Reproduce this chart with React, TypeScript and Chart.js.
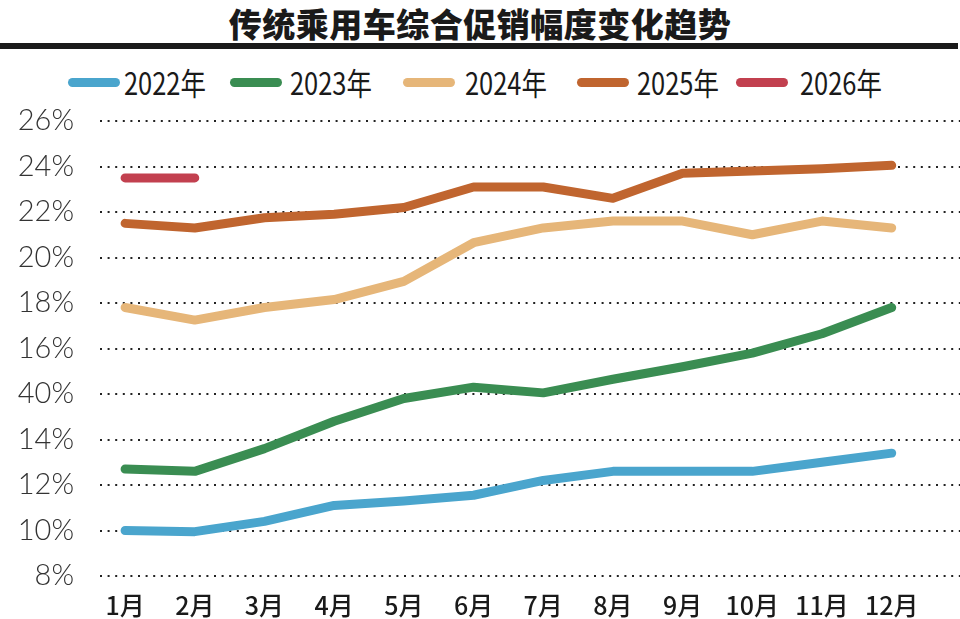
import React, { useEffect, useRef } from "react";
import { Chart, registerables } from "chart.js";

Chart.register(...registerables);

const title = "传统乘用车综合促销幅度变化趋势";
const months = ["1月", "2月", "3月", "4月", "5月", "6月", "7月", "8月", "9月", "10月", "11月", "12月"];
// tick labels bottom-to-top, as printed in the reference (its axis reads "40%" where 15% would sit)
const yTickLabels = ["8%", "10%", "12%", "14%", "40%", "16%", "18%", "20%", "22%", "24%", "26%"];
const yTickValues = [8, 10, 12, 14, 16, 18, 20, 22, 24, 26, 28];

const seriesNames = ["2022年", "2023年", "2024年", "2025年", "2026年"];
const seriesColors = ["#4aa5cd", "#3a8d52", "#e6b679", "#c0652f", "#c2404f"];

// values in the axis' plotted units
const v2022 = [10.0, 9.95, 10.4, 11.1, 11.3, 11.55, 12.2, 12.6, 12.6, 12.6, 13.0, 13.4];
const v2023 = [12.7, 12.6, 13.6, 14.8, 15.8, 16.3, 16.05, 16.65, 17.2, 17.8, 18.65, 19.8];
const v2024 = [19.8, 19.25, 19.8, 20.15, 20.95, 22.65, 23.3, 23.6, 23.6, 23.0, 23.6, 23.3];
const v2025 = [23.5, 23.3, 23.75, 23.9, 24.2, 25.1, 25.1, 24.6, 25.7, 25.8, 25.9, 26.05];
const v2026 = [25.5, 25.5];

const allSeries = [v2022, v2023, v2024, v2025, v2026];

const legendSwatchX = [68, 230, 403, 577, 736];
const legendTextX = [124, 290, 465, 637, 800];

export default function App() {
  const ref = useRef<HTMLCanvasElement | null>(null);

  useEffect(() => {
    document.body.style.margin = "0";
    const ctx = ref.current!.getContext("2d")!;
    const chart = new Chart(ctx, {
      type: "line",
      data: {
        datasets: allSeries.map((vals, i) => ({
          label: seriesNames[i],
          data: vals.map((v, j) => ({ x: j + 1, y: v })),
          borderColor: seriesColors[i],
          backgroundColor: seriesColors[i],
          borderWidth: 9,
          borderCapStyle: "round" as const,
          borderJoinStyle: "round" as const,
          pointRadius: 0,
          tension: 0,
          fill: false,
        })),
      },
      options: {
        animation: false,
        responsive: false,
        maintainAspectRatio: false,
        layout: { padding: { top: 21, right: 0, bottom: 0, left: 0 } },
        plugins: {
          legend: { display: false },
          tooltip: { enabled: false },
          title: { display: false },
        },
        scales: {
          x: {
            type: "linear",
            min: 0.64,
            max: 12.98,
            grid: { display: false, drawTicks: false },
            border: { display: false },
            ticks: {
              stepSize: 1,
              includeBounds: false,
              autoSkip: false,
              maxRotation: 0,
              padding: 14,
              color: "#1a1a1a",
              font: { family: "'Noto Sans CJK SC', 'Noto Sans', sans-serif", size: 25, weight: "500" },
              callback: (val: any) => {
                const n = Number(val);
                return Number.isInteger(n) && n >= 1 && n <= 12 ? months[n - 1] : "";
              },
            },
          },
          y: {
            type: "linear",
            min: 8,
            max: 28,
            afterFit: (s: any) => {
              s.width = 100;
              s.paddingTop = 0;
              s.paddingBottom = 0;
            },
            afterBuildTicks: (s: any) => {
              s.ticks = yTickValues.map((v) => ({ value: v }));
            },
            grid: {
              drawTicks: false,
              color: "#222222",
              lineWidth: 2,
            },
            border: { display: false, dash: [2, 5.6] },
            ticks: {
              padding: 26,
              color: "#333333",
              font: { family: "Lato, 'Noto Sans', sans-serif", size: 29, weight: "300" },
              callback: (val: any) => {
                const idx = yTickValues.indexOf(Number(val));
                return idx >= 0 ? yTickLabels[idx] : "";
              },
            },
          },
        },
      },
    });
    return () => chart.destroy();
  }, []);

  return (
    <div style={{ position: "relative", width: 960, height: 619, background: "#fff", overflow: "hidden" }}>
      <div
        style={{
          position: "absolute",
          top: 1,
          left: 0,
          width: 960,
          textAlign: "center",
          fontFamily: "'Noto Sans CJK SC', sans-serif",
          fontWeight: 900,
          fontSize: 33,
          lineHeight: "44px",
          color: "#1a1a1a",
          letterSpacing: 0.5,
        }}
      >
        {title}
      </div>
      <div style={{ position: "absolute", top: 43, left: 0, width: 958, height: 6, background: "#1a1a1a" }} />
      {seriesNames.map((n, i) => (
        <React.Fragment key={n}>
          <div
            style={{
              position: "absolute",
              left: legendSwatchX[i],
              top: 78,
              width: 52,
              height: 9,
              borderRadius: 5,
              background: seriesColors[i],
            }}
          />
          <span
            style={{
              position: "absolute",
              left: legendTextX[i],
              top: 62,
              fontFamily: "'Noto Sans CJK SC', sans-serif",
              fontSize: 31,
              lineHeight: "40px",
              color: "#1a1a1a",
              whiteSpace: "nowrap",
              transform: "scaleX(0.82)",
              transformOrigin: "left center",
            }}
          >
            {n}
          </span>
        </React.Fragment>
      ))}
      <canvas ref={ref} width={960} height={534} style={{ position: "absolute", top: 100, left: 0, width: 960, height: 534 }} />
    </div>
  );
}
